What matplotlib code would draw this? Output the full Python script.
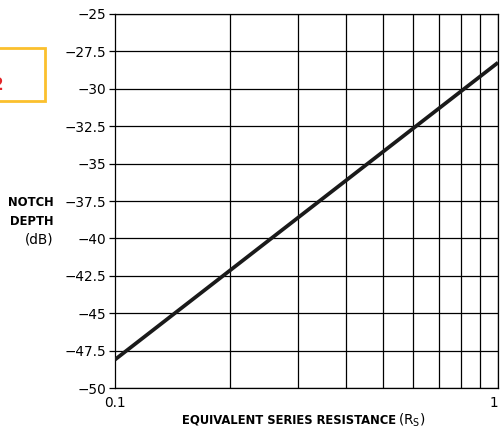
import matplotlib
matplotlib.use("Agg")
import matplotlib.pyplot as plt
from matplotlib.patches import Rectangle
from matplotlib import font_manager

plt.rcParams["font.family"] = "DejaVu Sans"
plt.rcParams["font.size"] = 9.8
plt.rcParams["axes.unicode_minus"] = True

# data
rs = [0.1, 1.0]
depth = [-48.1, -28.25]
y_ticks = [-50, -47.5, -45, -42.5, -40, -37.5, -35, -32.5, -30, -27.5, -25]
x_minor = [0.2, 0.3, 0.4, 0.5, 0.6, 0.7, 0.8, 0.9]

# condensed bold face if one is installed, else shrink the normal one
has_cond = any(
    f.name == "DejaVu Sans" and str(f.stretch) in ("condensed", "semi-condensed")
    for f in font_manager.fontManager.ttflist
)
lab_kw = dict(fontweight="bold", family="DejaVu Sans")
if has_cond:
    lab_kw.update(fontstretch="condensed", fontsize=9.3)
else:
    lab_kw.update(fontsize=8.0)

fig = plt.figure(figsize=(5.02, 4.37), dpi=100)
ax = fig.add_axes([0.229, 0.112, 0.763, 0.856])

ax.plot(rs, depth, color="#1a1a1a", lw=2.7, solid_capstyle="butt", zorder=3)

ax.set_xscale("log")
ax.set_xlim(0.1, 1)
ax.set_ylim(-50, -25)
ax.set_yticks(y_ticks)
ax.set_yticklabels([f"{v:g}".replace("-", "\u2212") for v in y_ticks])
ax.set_xticks([0.1, 1])
ax.set_xticklabels(["0.1", "1"])
ax.get_xticklabels()[-1].set_ha("right")
ax.set_xticks(x_minor, minor=True)
ax.set_xticklabels([], minor=True)

for v in y_ticks:
    ax.axhline(v, color="black", lw=0.9, zorder=1)
for v in x_minor + [1.0]:
    ax.axvline(v, color="black", lw=0.9, zorder=1)

ax.tick_params(axis="y", length=4, width=0.9, pad=2)
ax.tick_params(axis="x", which="both", length=0, pad=6)
for s in ax.spines.values():
    s.set_linewidth(0.9)

# y-axis label
fig.text(0.106, 0.515, "NOTCH\nDEPTH", ha="right", va="center",
         linespacing=1.65, **lab_kw)
fig.text(0.106, 0.451, "(dB)", ha="right", va="center", fontsize=9.8)

# x-axis label
fig.text(0.789, 0.038, "EQUIVALENT SERIES RESISTANCE", ha="right", va="center", **lab_kw)
fig.text(0.793, 0.038, r"(R$_\mathregular{S}$)", ha="left", va="center", fontsize=9.8)

# clipped badge at top-left
fig.patches.append(Rectangle((-0.05, 0.77), 0.14, 0.12, transform=fig.transFigure,
                             fill=False, edgecolor="#FBC02D", lw=2, figure=fig))
fig.text(0.006, 0.805, "2", ha="right", va="center", fontsize=12,
         fontweight="bold", color="#E3262A")

fig.savefig("out.png", dpi=100)
